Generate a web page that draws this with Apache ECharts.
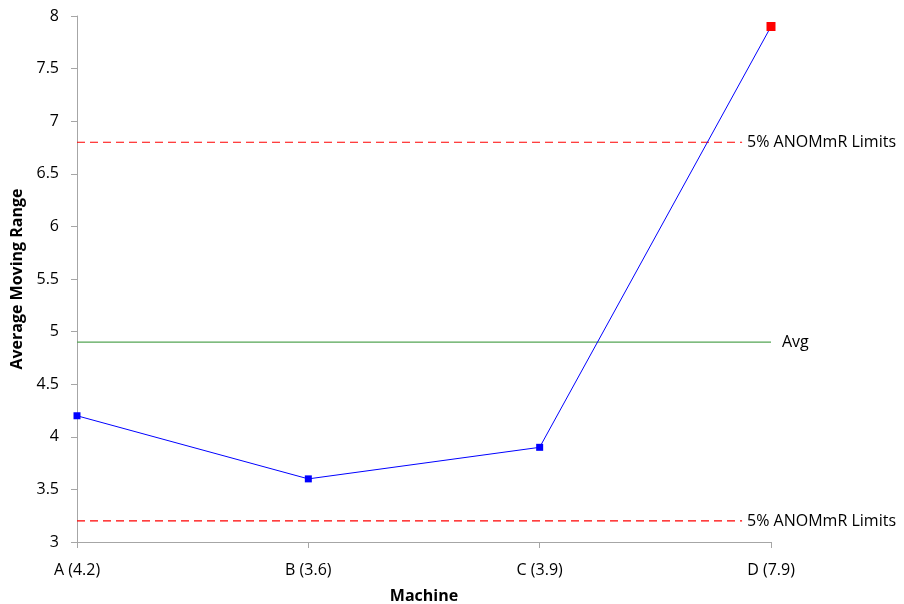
<!DOCTYPE html>
<html><head><meta charset="utf-8">
<script src="https://cdn.jsdelivr.net/npm/echarts@6/dist/echarts.min.js"></script>
<style>html,body{margin:0;padding:0;background:#fff}#c{width:904px;height:604px}</style>
</head><body><div id="c"></div>
<script>
const categories = ['A (4.2)', 'B (3.6)', 'C (3.9)', 'D (7.9)'];
const avgMovingRange = [4.2, 3.6, 3.9, 7.9];
const flagged = [false, false, false, true];
const upperLimit = 6.8;
const lowerLimit = 3.2;
const average = 4.9;
const limitLabel = '5% ANOMmR Limits';
const avgLabel = 'Avg';
const limitEnd = 2.875; // extent of limit lines along category index
const avgEnd = 3.0;

const font = '"Open Sans", "Noto Sans", sans-serif';
const chart = echarts.init(document.getElementById('c'), null, {renderer: 'canvas'});

function refLine(y, end, color, type, label, dist) {
  return {
    type: 'line', xAxisIndex: 1, symbol: 'none', silent: true,
    color: color,
    itemStyle: {color: color},
    lineStyle: {color: color, width: 1.2, type: type, opacity: 1},
    emphasis: {disabled: true},
    data: [[0, y], [end, y]],
    label: {show: false},
    endLabel: {show: true, formatter: label, color: '#000', fontSize: 16, fontFamily: font, distance: dist},
    z: 1
  };
}

chart.setOption({
  animation: false,
  grid: {left: 77, right: 133, top: 16, bottom: 62, outerBoundsMode: 'none', containLabel: false},
  xAxis: [{
    type: 'category', data: categories, boundaryGap: false,
    name: 'Machine', nameLocation: 'middle', nameGap: 46,
    nameTextStyle: {fontFamily: font, fontWeight: 'bold', fontSize: 16, color: '#000'},
    axisLine: {lineStyle: {color: '#a6a6a6'}},
    axisTick: {show: true, alignWithLabel: true, length: 6, lineStyle: {color: '#a6a6a6'}},
    axisLabel: {fontFamily: font, fontSize: 16, color: '#000', margin: 20},
    splitLine: {show: false}
  }, {
    type: 'value', min: 0, max: 3, show: false
  }],
  yAxis: {
    type: 'value', min: 3, max: 8, interval: 0.5,
    name: 'Average Moving Range', nameLocation: 'middle', nameGap: 45, nameRotate: 90,
    nameTextStyle: {fontFamily: font, fontWeight: 'bold', fontSize: 16, color: '#000'},
    axisLine: {show: true, lineStyle: {color: '#a6a6a6'}},
    axisTick: {show: true, length: 6, lineStyle: {color: '#a6a6a6'}},
    axisLabel: {fontFamily: font, fontSize: 16, color: '#000', margin: 18},
    splitLine: {show: false}
  },
  series: [
    refLine(upperLimit, limitEnd, '#ff0000', [8, 5], limitLabel, 5),
    refLine(lowerLimit, limitEnd, '#ff0000', [8, 5], limitLabel, 5),
    refLine(average, avgEnd, '#55a555', 'solid', avgLabel, 11),
    {
      type: 'line', xAxisIndex: 0,
      data: avgMovingRange.map((v, i) => ({
        value: v,
        symbolSize: flagged[i] ? 9 : 7,
        itemStyle: {color: flagged[i] ? '#ff0000' : '#0000ff'}
      })),
      symbol: 'rect', showAllSymbol: true,
      lineStyle: {color: '#0000ff', width: 1},
      itemStyle: {color: '#0000ff'},
      z: 3
    }
  ]
});
</script></body></html>
